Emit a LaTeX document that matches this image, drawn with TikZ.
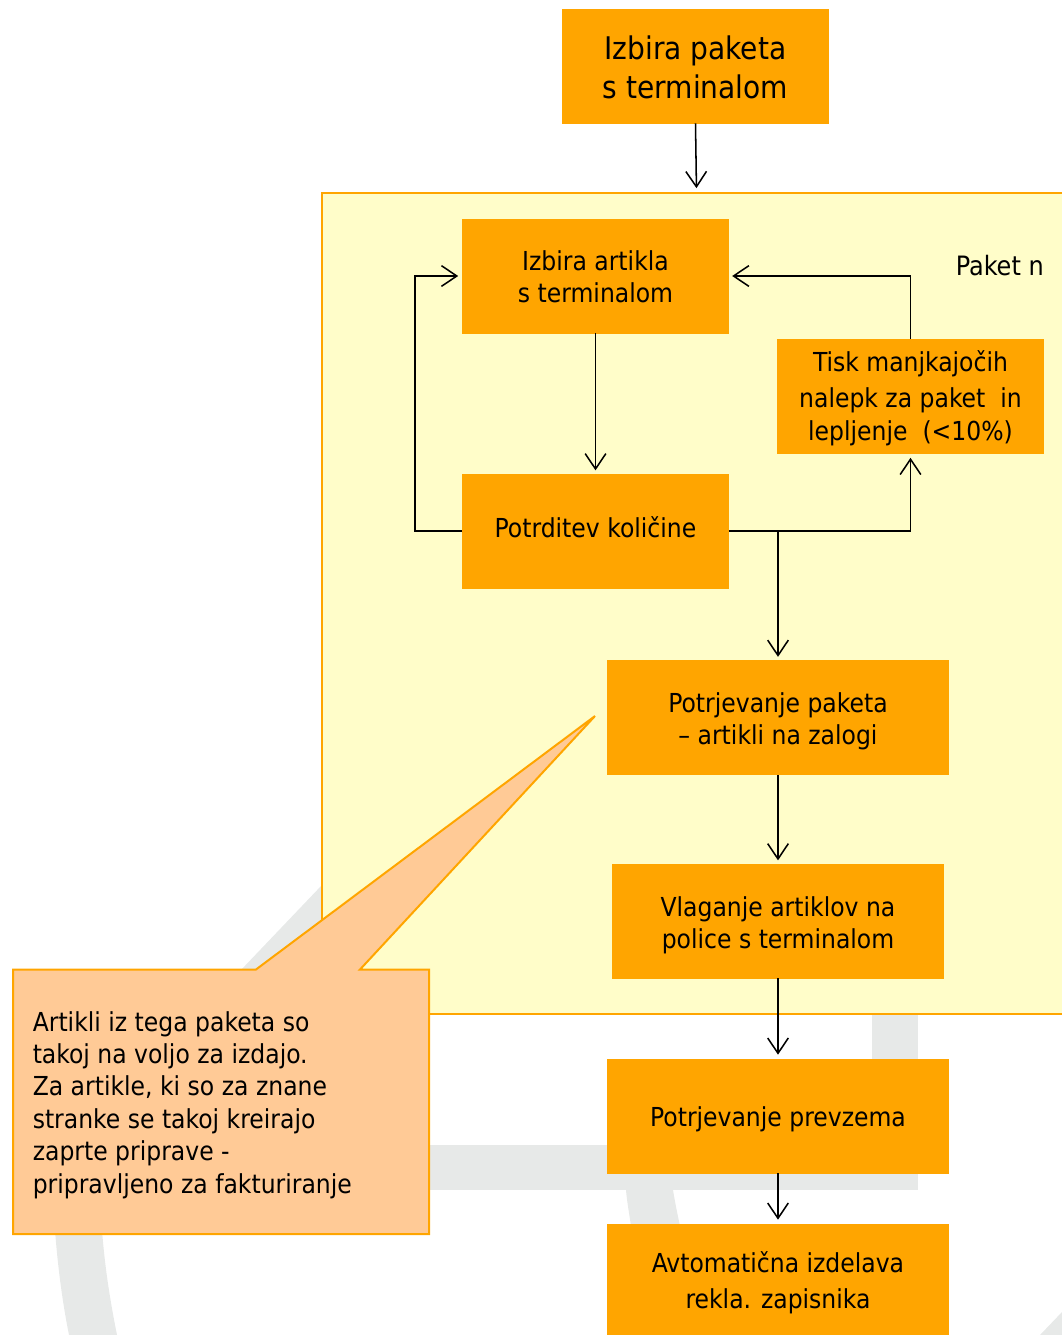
\documentclass[tikz,border=0pt]{standalone}
\usepackage{fontspec}
\setmainfont{DejaVu Sans Condensed}
\usetikzlibrary{arrows.meta}
\definecolor{boxorange}{HTML}{FFA500}
\definecolor{pkgyellow}{HTML}{FFFDC9}
\definecolor{notefill}{HTML}{FFCA96}
\definecolor{wmark}{HTML}{E7E9E8}
\tikzset{
  x=0.75pt,y=-0.75pt,
  box/.style={draw=boxorange,line width=0.5pt,fill=boxorange,inner sep=0pt},
  boxA/.style={box,minimum width=199.5pt,minimum height=85.5pt},
  boxB/.style={box,minimum width=256pt,minimum height=85.5pt},
  boxC/.style={box,minimum width=248.5pt,minimum height=85.5pt},
  txt/.style={text=black,inner sep=0pt,align=center,font=\fontsize{19.6}{24.3}\selectfont},
  bigtxt/.style={text=black,inner sep=0pt,align=center,font=\fontsize{23.4}{29.3}\selectfont},
  pkg/.style={draw=boxorange,line width=1.3pt,fill=pkgyellow,inner sep=0pt,minimum width=561pt,minimum height=615.75pt},
  note/.style={draw=boxorange,line width=1.5pt,fill=notefill,line join=miter},
  notetext/.style={inner sep=0pt,align=left,anchor=north west,font=\fontsize{19.6}{24.3}\selectfont},
  plain/.style={inner sep=0pt,font=\fontsize{20}{24.3}\selectfont},
  conn/.style={draw=black,line width=1.15pt,-{Straight Barb[length=11.5pt,width=15.5pt,line width=1.15pt]}},
  wm/.style={fill=wmark,draw=none}
}
\begin{document}
\begin{tikzpicture}
\useasboundingbox (0,0) rectangle (1062,1335);
% watermark
\fill[wm] (429,1145) rectangle (918,1190);
\fill[wm] (872,1010) rectangle (918,1190);
\fill[wm] (626,1190) .. controls (627,1202) and (629,1212) .. (631,1226) -- (680,1226) .. controls (677,1212) and (675,1202) .. (673,1190) -- cycle;
\fill[wm] (55,1230) .. controls (58,1270) and (63,1305) .. (69,1335) -- (117,1335) .. controls (111,1305) and (105,1270) .. (102,1230) -- cycle;
\fill[wm] (322,885) -- (240,971) -- (322,971) -- cycle;
\fill[wm] (1062,1312) -- (1040,1335) -- (1062,1335) -- cycle;
% package frame
\node[pkg] (paket) at (696,603.5) {};
\node[plain,anchor=east] (paketn) at (1044,266) {Paket n};
% boxes
\node[boxA] (izbirap) at (695.5,66) {};
\node[boxA] (izbiraa) at (595.5,276) {};
\node[boxA] (potrd) at (595.5,531) {};
\node[boxA] (tisk) at (910.5,396.5) {};
\node[boxB] (potrp) at (778,717.5) {};
\node[boxC] (vlag) at (778,921) {};
\node[boxB] (prevz) at (778,1116) {};
\node[boxB] (avto) at (778,1281) {};
% texts
\node[bigtxt] (izbirapt) at (695.5,67) {Izbira paketa\\s terminalom};
\node[txt] (izbiraat) at (595.5,277) {Izbira artikla\\s terminalom};
\node[txt] (potrdt) at (595.5,527) {Potrditev količine};
\node[txt] (tiskt) at (910.5,398.5) {Tisk manjkajočih\\[2.5pt]nalepk za paket\ \ in\\[1pt]lepljenje\ \ (<10\%)};
\node[txt] (potrpt) at (778,721.5) {Potrjevanje paketa\\– artikli na zalogi};
\node[txt] (vlagt) at (778,925) {Vlaganje artiklov na\\police s terminalom};
\node[txt] (prevzt) at (778,1119) {Potrjevanje prevzema};
\node[txt] (avtot) at (778,1282.5) {Avtomatična izdelava\\[3pt]rekla. zapisnika};
% connector helpers
\coordinate (jn) at (778,531);
\coordinate (ltop) at (415,276);
\coordinate (lbot) at (415,531);
\coordinate (rtop) at (910.5,276);
\coordinate (rbot) at (910.5,531);
% connectors
\draw[conn,shorten >=3pt] (izbirap.south) -- (paket.north -| 696.5,0);
\draw[conn,shorten >=2.5pt] (izbiraa.south) -- (potrd.north);
\draw[conn,shorten >=3pt] (potrd.west) -- (lbot) -- (ltop) -- (izbiraa.west);
\draw[conn,shorten >=2.5pt] (tisk.north) -- (rtop) -- (izbiraa.east);
\draw[conn,shorten >=3pt] (potrd.east) -- (rbot) -- (tisk.south);
\draw[conn,shorten >=2.5pt] (jn) -- (potrp.north);
\draw[conn,shorten >=2.5pt] (potrp.south) -- (vlag.north);
\draw[conn,shorten >=3pt] (vlag.south) -- (prevz.north);
\draw[conn,shorten >=3pt] (prevz.south) -- (avto.north);
% callout
\draw[note] (13,969.5) -- (256,969.5) -- (595,716) -- (360,969.5) -- (429,969.5) -- (429,1234) -- (13,1234) -- cycle;
\node[notetext] (notiz) at (32.5,1011) {Artikli iz tega paketa so\\takoj na voljo za izdajo.\\Za artikle, ki so za znane\\stranke se takoj kreirajo\\zaprte priprave -\\pripravljeno za fakturiranje};
\end{tikzpicture}
\end{document}
